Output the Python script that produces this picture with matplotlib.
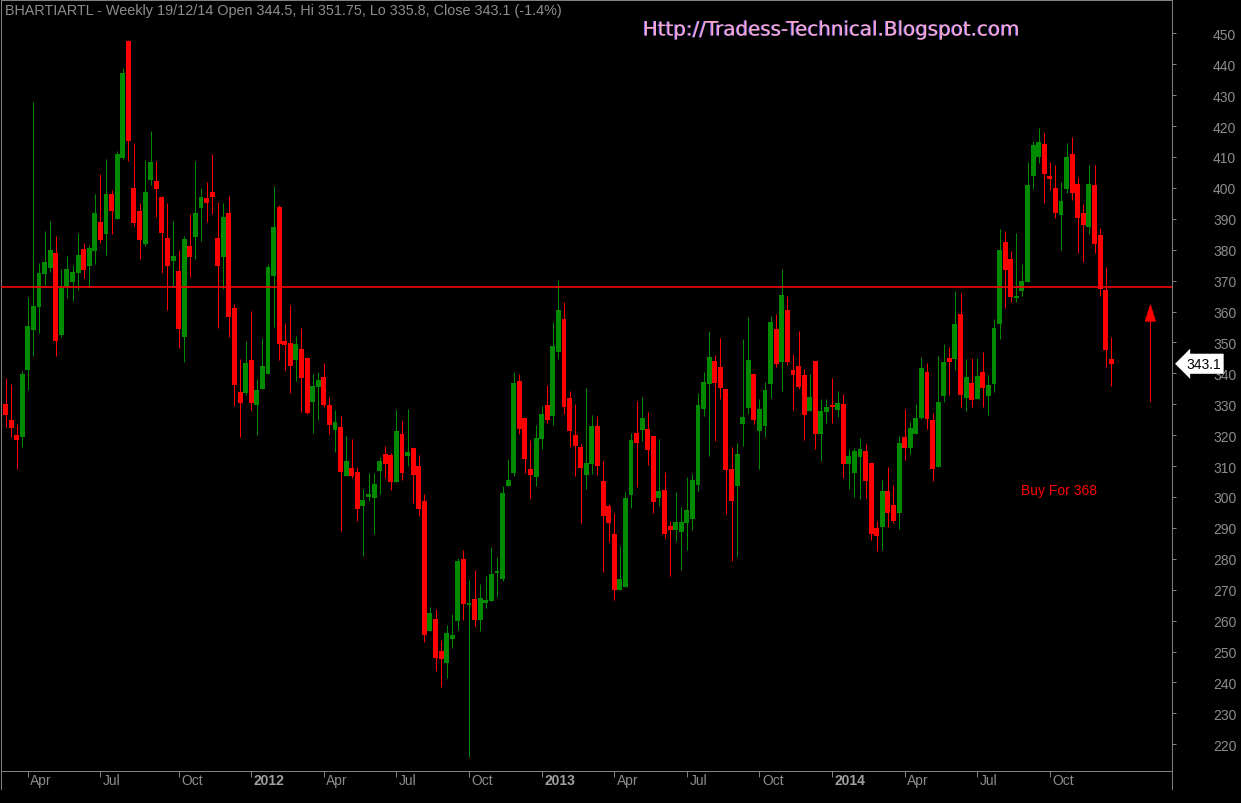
import matplotlib
matplotlib.use('Agg')
import matplotlib.pyplot as plt
import matplotlib.patheffects as pe
import matplotlib.transforms as mtransforms
from matplotlib.lines import Line2D
import numpy as np
import pandas as pd

# ---------------- data (weekly OHLC, BHARTIARTL) ----------------
opens = [330.1, 324.9, 320.1, 319.5, 341.2, 354.1, 361.6, 372.2, 374.2, 378.9,
         352.5, 367.9, 369.5, 372.6, 380.3, 374.7, 379.7, 389.0, 385.1, 398.0,
         390.0, 409.7, 447.5, 399.9, 392.5, 381.9, 402.7, 402.2, 397.0, 383.8,
         376.4, 373.1, 351.8, 381.2, 384.2, 393.6, 396.7, 398.7, 383.8, 377.7,
         391.9, 361.1, 334.0, 333.7, 344.3, 329.9, 335.0, 339.9, 371.6, 393.8,
         350.4, 349.8, 344.4, 347.9, 345.0, 330.8, 335.7, 338.8, 329.8, 321.8,
         322.6, 306.9, 309.4, 308.1, 297.2, 300.1, 299.8, 308.5, 313.9, 313.6,
         304.9, 320.4, 313.4, 315.8, 310.0, 298.7, 256.7, 260.5, 250.3, 246.4,
         254.2, 260.0, 279.9, 265.2, 267.0, 260.3, 265.8, 266.5, 275.5, 273.6,
         303.6, 307.9, 337.5, 325.5, 309.0, 306.6, 318.9, 329.8, 326.3, 347.0,
         357.6, 332.0, 320.0, 316.2, 307.2, 310.8, 323.0, 305.2, 297.1, 288.0,
         269.9, 270.9, 300.6, 320.7, 321.7, 322.0, 319.7, 299.7, 302.3, 290.6,
         289.3, 288.7, 291.6, 292.9, 303.9, 328.5, 336.5, 344.0, 342.0, 334.9,
         309.0, 303.6, 323.6, 328.8, 339.8, 321.3, 323.0, 336.5, 354.3, 343.7,
         360.5, 341.1, 342.4, 339.5, 327.8, 344.0, 320.4, 327.5, 329.4, 328.1,
         330.1, 310.7, 307.8, 312.9, 314.9, 311.0, 290.0, 290.3, 301.9, 297.4,
         294.8, 319.4, 315.8, 320.4, 325.5, 340.4, 324.9, 309.7, 332.7, 345.0,
         344.6, 359.2, 332.0, 336.9, 331.7, 340.4, 332.7, 336.5, 355.9, 382.5,
         377.0, 364.4, 366.6, 369.5, 403.8, 410.0, 414.2, 403.8, 400.0, 391.2,
         399.6, 411.0, 401.2, 391.9, 387.3, 400.9, 384.7, 366.9, 344.5]
highs = [338.5, 336.5, 323.6, 340.6, 364.8, 427.8, 375.7, 386.0, 389.3, 384.4,
         373.7, 378.0, 375.2, 385.4, 382.2, 381.5, 398.0, 404.5, 409.3, 399.3,
         411.9, 438.8, 447.8, 414.5, 395.1, 409.0, 418.4, 408.7, 397.4, 395.1,
         389.3, 379.9, 384.4, 391.5, 408.7, 400.0, 401.9, 411.0, 395.4, 395.1,
         397.4, 362.4, 344.6, 350.4, 360.2, 338.2, 351.4, 375.4, 400.6, 394.3,
         356.3, 362.1, 352.1, 354.7, 345.3, 339.8, 340.4, 343.3, 332.3, 328.1,
         326.2, 319.7, 318.8, 309.7, 302.6, 307.8, 307.8, 312.9, 316.5, 314.2,
         328.1, 324.6, 328.5, 315.9, 313.6, 301.0, 264.4, 263.7, 253.7, 258.7,
         262.2, 280.2, 282.8, 273.1, 276.4, 271.8, 274.4, 283.8, 280.6, 303.5,
         312.3, 340.4, 339.8, 325.6, 318.4, 323.3, 329.4, 336.2, 356.6, 370.2,
         363.1, 334.3, 330.1, 317.1, 335.2, 326.5, 326.2, 311.6, 297.7, 294.8,
         284.1, 301.6, 320.7, 331.0, 332.3, 327.5, 319.8, 318.8, 308.1, 292.2,
         301.6, 296.7, 306.5, 307.4, 333.6, 340.4, 353.7, 345.9, 351.4, 335.0,
         316.2, 317.5, 351.1, 358.2, 339.9, 331.7, 337.2, 358.5, 359.2, 373.8,
         365.0, 346.2, 353.7, 341.4, 339.8, 344.0, 331.7, 331.7, 338.5, 334.3,
         333.3, 315.5, 315.8, 319.1, 317.1, 311.1, 292.2, 305.5, 309.7, 303.9,
         319.7, 328.5, 324.2, 330.1, 345.3, 343.3, 327.2, 345.6, 349.5, 348.5,
         366.6, 366.0, 344.6, 345.0, 345.0, 346.9, 339.5, 357.6, 386.7, 386.0,
         379.6, 385.4, 375.4, 408.4, 415.2, 419.4, 417.7, 408.4, 407.4, 401.9,
         414.5, 416.5, 403.5, 394.8, 407.4, 407.4, 387.0, 374.4, 351.75]
lows = [322.5, 319.3, 309.0, 316.3, 334.7, 345.7, 353.1, 368.6, 372.9, 345.7,
        351.8, 364.4, 363.5, 367.1, 371.0, 368.0, 375.4, 382.3, 378.3, 385.1,
        389.9, 409.3, 408.7, 387.8, 377.1, 381.3, 401.0, 390.7, 372.6, 360.6,
        368.0, 348.3, 343.8, 371.3, 377.1, 382.9, 389.1, 391.7, 354.8, 367.4,
        351.9, 329.5, 319.5, 333.1, 328.2, 320.1, 335.0, 339.9, 355.1, 344.3,
        341.2, 333.7, 337.6, 327.6, 327.0, 320.8, 325.0, 329.2, 320.5, 314.7,
        289.1, 306.9, 306.2, 292.3, 281.0, 298.8, 288.0, 301.1, 306.2, 302.4,
        304.9, 305.6, 310.1, 298.2, 293.9, 253.2, 256.7, 243.8, 238.6, 241.5,
        251.2, 257.1, 260.3, 216.0, 258.4, 256.7, 264.2, 266.5, 267.7, 272.9,
        303.6, 306.9, 320.5, 307.9, 299.8, 303.6, 315.6, 324.0, 323.4, 344.7,
        326.9, 316.3, 306.9, 291.7, 302.7, 307.5, 307.2, 275.7, 285.5, 266.7,
        269.9, 270.9, 296.4, 303.2, 318.1, 310.4, 294.8, 297.1, 286.7, 274.4,
        285.8, 276.4, 282.8, 289.3, 301.9, 326.2, 313.3, 318.1, 331.7, 294.5,
        279.3, 280.6, 316.5, 326.8, 323.6, 309.0, 319.4, 332.0, 342.0, 334.3,
        342.7, 328.1, 334.9, 318.4, 327.8, 315.5, 311.6, 323.9, 323.9, 325.9,
        306.1, 302.6, 300.0, 299.3, 299.7, 286.1, 282.5, 283.0, 290.3, 291.6,
        289.6, 312.0, 313.9, 320.4, 325.2, 322.0, 305.2, 309.7, 330.7, 333.0,
        341.1, 329.1, 327.8, 329.1, 331.7, 329.1, 326.5, 334.0, 351.1, 361.1,
        363.1, 363.1, 365.0, 369.5, 399.6, 408.0, 395.1, 399.3, 390.2, 379.9,
        398.3, 396.1, 378.9, 376.0, 385.1, 378.9, 365.0, 342.0, 335.8]
closes = [326.6, 322.3, 318.5, 339.8, 355.3, 361.8, 372.5, 376.0, 379.9, 350.6,
          367.7, 373.7, 372.8, 378.3, 373.5, 380.6, 391.9, 383.2, 398.0, 392.5,
          410.9, 437.2, 415.3, 388.7, 383.2, 398.7, 408.4, 399.7, 385.5, 374.8,
          378.0, 354.4, 383.5, 377.7, 391.9, 397.0, 395.2, 397.2, 374.7, 390.6,
          358.3, 336.3, 330.5, 343.3, 330.5, 334.6, 342.4, 374.4, 387.3, 349.6,
          349.3, 342.5, 349.5, 338.6, 327.3, 335.9, 337.8, 329.9, 323.4, 324.3,
          308.2, 311.6, 306.9, 296.2, 299.0, 301.0, 304.2, 311.6, 310.7, 304.9,
          321.3, 307.9, 314.6, 307.2, 296.2, 255.4, 262.5, 248.0, 247.7, 256.1,
          255.4, 279.3, 265.5, 265.8, 260.3, 267.3, 266.7, 275.1, 275.7, 301.3,
          305.5, 336.9, 322.1, 312.4, 307.2, 319.1, 326.8, 325.0, 348.8, 360.5,
          329.2, 321.4, 316.6, 309.5, 311.0, 323.0, 310.1, 293.8, 291.7, 269.9,
          273.5, 299.7, 318.4, 317.5, 325.5, 315.2, 298.4, 302.0, 288.0, 289.3,
          291.9, 291.9, 295.8, 305.5, 329.7, 337.2, 345.3, 336.9, 335.2, 308.7,
          298.7, 313.9, 325.9, 344.3, 324.9, 328.5, 334.6, 356.6, 343.0, 365.3,
          343.7, 339.5, 335.6, 326.5, 332.4, 320.4, 327.8, 329.1, 329.2, 330.4,
          310.7, 313.2, 314.9, 315.5, 305.2, 288.0, 287.4, 301.9, 294.8, 292.2,
          317.5, 315.8, 322.3, 325.5, 341.7, 325.2, 309.0, 330.7, 343.7, 343.7,
          356.0, 333.0, 338.8, 331.4, 339.1, 335.2, 336.2, 354.7, 379.9, 373.4,
          364.7, 365.0, 369.9, 400.9, 413.9, 414.8, 404.5, 402.9, 391.9, 395.7,
          410.0, 398.3, 390.2, 388.0, 401.2, 381.8, 367.3, 347.5, 343.1]
first_week = '2011-03-04'
yticks = list(range(220, 451, 10))
buy_level = 368
buy_text = 'Buy For 368'
buy_text_pos = (181.8, 302.3)
arrow_x = 205
arrow_low, arrow_high = 330.8, 362.6
title = 'BHARTIARTL - Weekly 19/12/14 Open 344.5, Hi 351.75, Lo 335.8, Close 343.1 (-1.4%)'
site = 'Http://Tradess-Technical.Blogspot.com'
last_close = closes[-1]

# ---------------- style ----------------
W, H = 1241, 804
GREEN = '#008a00'
RED = '#ff0000'
GRAY = '#808080'
TXT = '#8c8c8c'
PX = 0.72  # one pixel in points at dpi 100
plt.rcParams['font.family'] = ['Liberation Sans', 'DejaVu Sans']

fig = plt.figure(figsize=(W / 100, H / 100), dpi=100, facecolor='black')
ax_l, ax_r, ax_t, ax_b = 1, 1172, 0.5, 772
ax = fig.add_axes([ax_l / W, 1 - ax_b / H, (ax_r - ax_l) / W, (ax_b - ax_t) / H])
ax.set_facecolor('black')

o = np.array(opens); h = np.array(highs); l = np.array(lows); c = np.array(closes)
x = np.arange(len(o))
cols = np.where(c >= o, GREEN, RED)
ax.vlines(x, l, h, colors=cols, linewidth=1 * PX, zorder=2)
ax.bar(x, np.maximum(np.abs(c - o), 0.4), bottom=np.minimum(o, c), width=0.88,
       color=cols, linewidth=0, zorder=3)

ax.axhline(buy_level, color=RED, linewidth=1.6 * PX, zorder=4)

ax.annotate('', xy=(arrow_x, arrow_high), xytext=(arrow_x, arrow_low),
            arrowprops=dict(arrowstyle='-|>,head_length=1.15,head_width=0.36',
                            mutation_scale=10, color=RED, lw=1 * PX,
                            shrinkA=0, shrinkB=0), zorder=5)
ax.text(buy_text_pos[0], buy_text_pos[1], buy_text, color=RED, fontsize=10,
        ha='left', va='center')

# limits: pixel-aligned to reference
ax.set_ylim(211.36, 460.94)
ax.set_xlim(-0.806, 208.87)

# spines
for s in ax.spines.values():
    s.set_color(GRAY)
    s.set_linewidth(1 * PX)

# y axis on right
ax.yaxis.tick_right()
ax.set_yticks(yticks)
ax.set_yticklabels([str(v) for v in yticks])
ax.tick_params(axis='y', direction='out', length=4 * PX, width=1 * PX, color=GRAY,
               labelcolor=TXT, labelsize=10, pad=37 * PX)

# x axis: quarterly ticks at first week of Jan/Apr/Jul/Oct
dates = pd.date_range(first_week, periods=len(o), freq='W-FRI')
tick_idx = [i for i in range(len(dates))
            if i > 0 and dates[i].month != dates[i - 1].month and dates[i].month in (1, 4, 7, 10)]
ax.set_xticks(tick_idx)
ax.set_xticklabels([])
ax.tick_params(axis='x', direction='out', length=6 * PX, width=1 * PX, color=GRAY)
trans = mtransforms.blended_transform_factory(ax.transData, ax.transAxes)
for i in tick_idx:
    d = dates[i]
    if d.month == 1:
        ax.text(i + 0.45, -0.003, str(d.year), transform=trans, ha='left', va='top',
                color='#a0a0a0', fontsize=10, fontweight='bold', clip_on=False)
    else:
        ax.text(i + 0.45, -0.003, d.strftime('%b'), transform=trans, ha='left', va='top',
                color=TXT, fontsize=10, clip_on=False)

# frame extension below the date strip
for xp in (ax_l, ax_r):
    fig.add_artist(Line2D([xp / W, xp / W], [1 - ax_b / H, 1 - 790 / H],
                          transform=fig.transFigure, color=GRAY, linewidth=1 * PX))

# last price marker
ytrans = mtransforms.blended_transform_factory(ax.transAxes, ax.transData)
ax.text((1186 - ax_l) / (ax_r - ax_l), last_close, f'{last_close:.1f}', transform=ytrans,
        ha='left', va='center', color='black', fontsize=10, clip_on=False, zorder=10,
        bbox=dict(boxstyle='larrow,pad=0.22', fc='white', ec='white', lw=0))

# header texts
fig.text(5 / W, 1 - 11 / H, title, color=TXT, fontsize=10.4, ha='left', va='center')
fig.text(643 / W, 1 - 31 / H, site, color='#ffa8c8', fontsize=14.3, ha='left', va='center',
         family='DejaVu Sans',
         path_effects=[pe.withSimplePatchShadow(offset=(-0.7, 0), shadow_rgbFace='#6a6aff', alpha=1.0)])

fig.savefig('out.png', dpi=100, facecolor='black')
